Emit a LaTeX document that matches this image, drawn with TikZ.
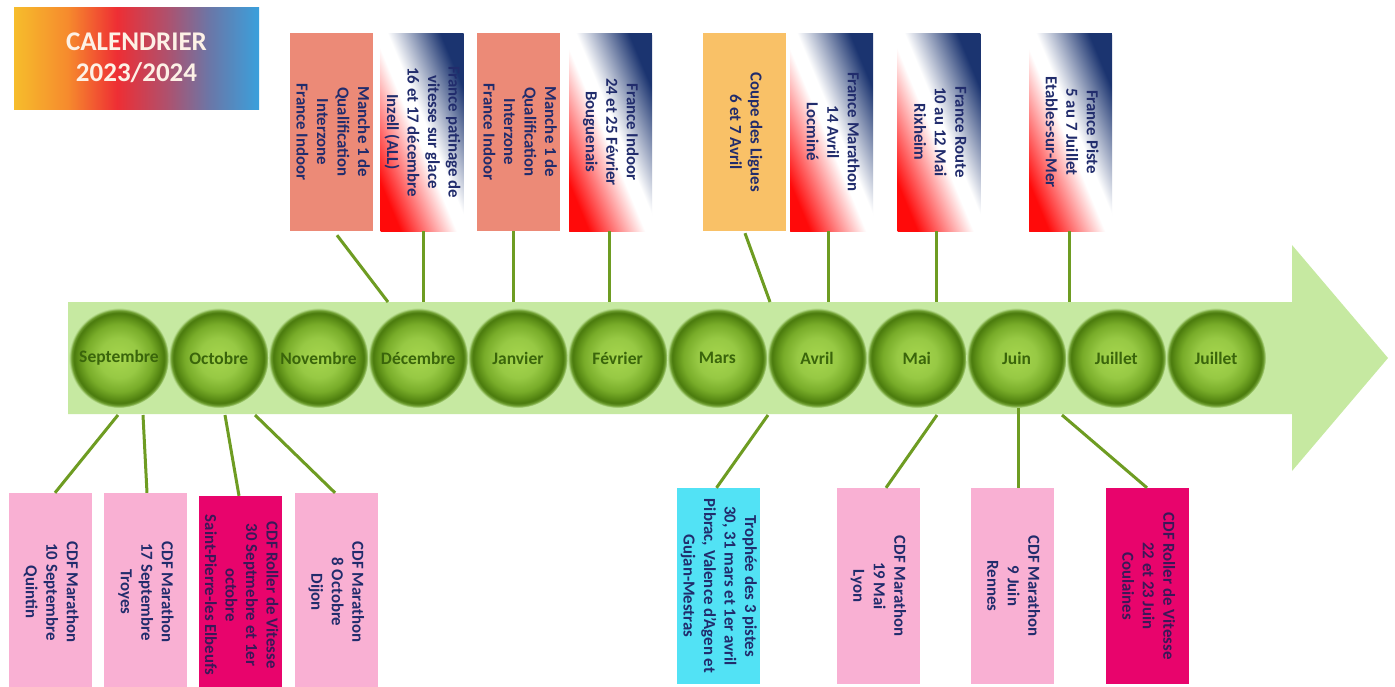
\documentclass[tikz,border=0pt]{standalone}
\usepackage{fontspec}
\setmainfont{Carlito}
\usepackage{graphicx}
\definecolor{arrowbg}{HTML}{C6E9A1}
\definecolor{bc0}{HTML}{A6D64E}
\definecolor{bc1}{HTML}{97C944}
\definecolor{bc2}{HTML}{78AC29}
\definecolor{bc3}{HTML}{5C8E17}
\definecolor{bc4}{HTML}{4A7A0D}
\definecolor{bc5}{HTML}{6E9E30}
\definecolor{monthtxt}{HTML}{3A650B}
\definecolor{conncol}{HTML}{6E9C22}
\definecolor{salmon}{HTML}{EC8A77}
\definecolor{orangebox}{HTML}{F9C167}
\definecolor{pinkbox}{HTML}{F9B0D3}
\definecolor{magbox}{HTML}{E8046C}
\definecolor{cyanbox}{HTML}{52E2F5}
\definecolor{navytxt}{HTML}{212C6C}
\definecolor{magtxt}{HTML}{3A1858}
\definecolor{frred}{HTML}{FF0A0A}
\definecolor{frnavy}{HTML}{1B3470}
\definecolor{titletxt}{HTML}{FDF1E6}
\definecolor{tg0}{HTML}{F6BD2C}
\definecolor{tg1}{HTML}{F68A2D}
\definecolor{tg2}{HTML}{EE2E34}
\definecolor{tg3}{HTML}{B0506C}
\definecolor{tg4}{HTML}{6A77A8}
\definecolor{tg5}{HTML}{3AA0DC}
\pgfdeclareradialshading{ballshade}{\pgfpoint{0bp}{0bp}}{color(0bp)=(bc0); color(10bp)=(bc1); color(17bp)=(bc2); color(20.5bp)=(bc3); color(22.6bp)=(bc4); color(23.8bp)=(bc5); color(25bp)=(arrowbg); color(50bp)=(arrowbg)}
\pgfdeclarehorizontalshading{tricolor}{100bp}{color(0bp)=(frred); color(31bp)=(frred); color(48bp)=(white); color(52bp)=(white); color(68bp)=(frnavy); color(100bp)=(frnavy)}
\pgfdeclarehorizontalshading{titlegrad}{100bp}{color(0bp)=(tg0); color(25bp)=(tg0); color(36bp)=(tg1); color(46bp)=(tg2); color(56bp)=(tg3); color(65bp)=(tg4); color(75bp)=(tg5); color(100bp)=(tg5)}
\newcommand{\vtext}[1]{\rotatebox{-90}{\begin{tabular}{@{}c@{}}#1\end{tabular}}}
% diagonal blue-white-red fill of a 83x198 box centred at (#1,#2)
\newcommand{\frfill}[2]{%
  \begin{scope}
    \clip ({#1-41.5},{#2-99}) rectangle ({#1+41.5},{#2+99});
    \begin{scope}[transform canvas={shift={(#1,#2)},rotate=22.7}]
      \shade[shading=tricolor] (-76.5pt,-120pt) rectangle (76.5pt,120pt);
    \end{scope}
  \end{scope}}
\tikzset{
  evbox/.style={rectangle, inner sep=0pt, minimum width=83pt, minimum height=198pt,
    font=\fontsize{16.8}{20.5}\selectfont\bfseries, text=navytxt},
  salmonbox/.style={evbox, fill=salmon},
  orbox/.style={evbox, fill=orangebox},
  frbox/.style={evbox},
  pbox/.style={evbox, fill=pinkbox},
  mbox/.style={evbox, fill=magbox, text=magtxt},
  cbox/.style={evbox, fill=cyanbox},
  monthball/.style={circle, inner sep=0pt, minimum size=100pt, shade, shading=ballshade,
    font=\fontsize{17.5}{20}\selectfont\bfseries, text=monthtxt},
  conn/.style={draw=conncol, line width=3pt},
  titlebox/.style={rectangle, inner sep=0pt, minimum width=245pt, minimum height=102pt,
    shade, shading=titlegrad, align=center, text=titletxt,
    font=\fontsize{27}{31}\selectfont\bfseries}
}
\begin{document}
\begin{tikzpicture}[x=1pt,y=-1pt]
\useasboundingbox (0,0) rectangle (1395,686);
\fill[white] (0,0) rectangle (1395,686);
% arrow
\fill[arrowbg] (68,302) -- (1292,302) -- (1292,245) -- (1388,358) -- (1292,471) -- (1292,414) -- (68,414) -- cycle;
% title
\node[titlebox] (title) at (136.5,58) {CALENDRIER\\2023/2024};
% months
\foreach \i/\m in {1/Septembre,2/Octobre,3/Novembre,4/Décembre,5/Janvier,6/Février,7/Mars,8/Avril,9/Mai,10/Juin,11/Juillet,12/Juillet}
  \node[monthball] (m\i) at ({119+99.73*(\i-1)},358) {\m};
% blue-white-red fills
\frfill{422}{132}
\frfill{610.5}{132}
\frfill{831.5}{132}
\frfill{939}{132}
\frfill{1070.5}{132}
% top boxes
\node[salmonbox] (b1) at (331.5,132) {\vtext{Manche 1 de\\Qualification\\Interzone\\France Indoor}};
\node[frbox] (b2) at (422,132) {\vtext{France patinage de\\vitesse sur glace\\16 et 17 décembre\\Inzell (ALL)}};
\node[salmonbox] (b3) at (518.5,132) {\vtext{Manche 1 de\\Qualification\\Interzone\\France Indoor}};
\node[frbox] (b4) at (610.5,132) {\vtext{France Indoor\\24 et 25 Février\\Bouguenais}};
\node[orbox] (b5) at (744.5,132) {\vtext{Coupe des Ligues\\6 et 7 Avril}};
\node[frbox] (b6) at (831.5,132) {\vtext{France Marathon\\14 Avril\\Locminé}};
\node[frbox] (b7) at (939,132) {\vtext{France Route\\10 au 12 Mai\\Rixheim}};
\node[frbox] (b8) at (1070.5,132) {\vtext{France Piste\\5 au 7 Juillet\\Etables-sur-Mer}};
% bottom boxes
\node[pbox] (c1) at (50.5,592) {\vtext{CDF Marathon\\10 Septembre\\Quintin}};
\node[pbox] (c2) at (145.5,592) {\vtext{CDF Marathon\\17 Septembre\\Troyes}};
\node[mbox] (c3) at (240,595) {\vtext{CDF Roller de Vitesse\\30 Septmebre et 1er\\octobre\\Saint-Pierre-les Elbeufs}};
\node[pbox] (c4) at (336,592) {\vtext{CDF Marathon\\8 Octobre\\Dijon}};
\node[cbox, minimum height=196pt] (c5) at (718.5,586) {\vtext{Trophée des 3 pistes\\30, 31 mars et 1er avril\\Pibrac, Valence d'Agen et\\Gujan-Mestras}};
\node[pbox, minimum height=196pt] (c6) at (878,586) {\vtext{CDF Marathon\\19 Mai\\Lyon}};
\node[pbox, minimum height=196pt] (c7) at (1012,586) {\vtext{CDF Marathon\\9 Juin\\Rennes}};
\node[mbox, minimum height=196pt] (c8) at (1147,586) {\vtext{CDF Roller de Vitesse\\22 et 23 Juin\\Coulaines}};
% connector ends on the arrow
\coordinate (e1) at (388,302);
\coordinate (e2) at (423,302);
\coordinate (e3) at (513,302);
\coordinate (e4) at (609,302);
\coordinate (e5) at (770,302);
\coordinate (e6) at (828,302);
\coordinate (e7) at (936,302);
\coordinate (e8) at (1069,302);
\coordinate (s1) at (118,415);
\coordinate (s2) at (143,415);
\coordinate (s3) at (225,415);
\coordinate (s4) at (255,415);
\coordinate (s5) at (768,415);
\coordinate (s6) at (937,415);
\coordinate (s7) at (1018,408);
\coordinate (s8) at (1062,415);
% connectors
\draw[conn] ([xshift=5.5pt,yshift=-4pt]b1.south) -- (e1);
\draw[conn] ([xshift=1pt]b2.south) -- (e2);
\draw[conn] ([xshift=-5.5pt]b3.south) -- (e3);
\draw[conn] ([xshift=-1.5pt]b4.south) -- (e4);
\draw[conn] ([xshift=0.5pt,yshift=-2pt]b5.south) -- (e5);
\draw[conn] ([xshift=-3.5pt]b6.south) -- (e6);
\draw[conn] ([xshift=-3pt]b7.south) -- (e7);
\draw[conn] ([xshift=-1.5pt]b8.south) -- (e8);
\draw[conn] (s1) -- ([xshift=4.5pt]c1.north);
\draw[conn] (s2) -- ([xshift=1.5pt]c2.north);
\draw[conn] (s3) -- ([xshift=-1pt]c3.north);
\draw[conn] (s4) -- ([xshift=-1pt]c4.north);
\draw[conn] (s5) -- ([xshift=-2pt]c5.north);
\draw[conn] (s6) -- ([xshift=8pt]c6.north);
\draw[conn] (s7) -- ([xshift=6pt]c7.north);
\draw[conn] (s8) -- (c8.north);
\end{tikzpicture}
\end{document}
